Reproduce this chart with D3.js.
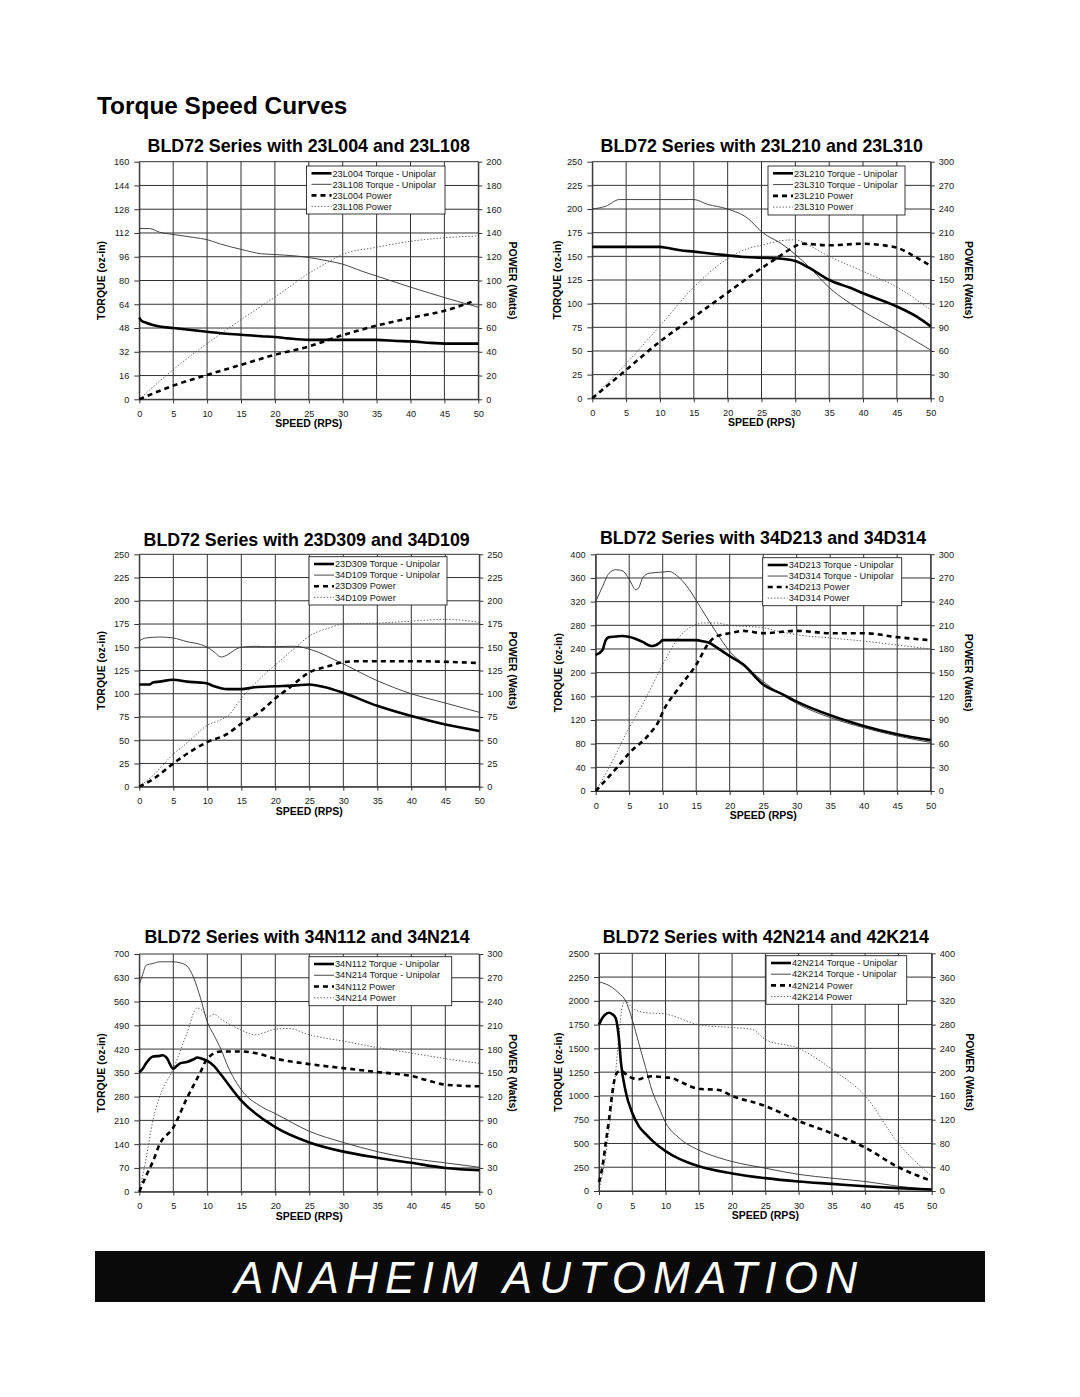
<!DOCTYPE html>
<html><head><meta charset="utf-8">
<script src="https://cdn.jsdelivr.net/npm/d3@7"></script>
<style>html,body{margin:0;padding:0;background:#fff;}svg{display:block;}</style>
</head><body>
<script>
// ---------------- DATA ----------------
const pageTitle = "Torque Speed Curves";
const brandText = "ANAHEIM AUTOMATION";
const speedTicks = [0,5,10,15,20,25,30,35,40,45,50];
const torqueAxisLabel = "TORQUE (oz-in)";
const powerAxisLabel = "POWER (Watts)";
const speedAxisLabel = "SPEED (RPS)";

// Chart 1
const c1Title = "BLD72 Series with 23L004 and 23L108";
const c1Legend = ["23L004 Torque - Unipolar","23L108 Torque - Unipolar","23L004 Power","23L108 Power"];
const c1LeftTicks = [0,16,32,48,64,80,96,112,128,144,160];
const c1RightTicks = [0,20,40,60,80,100,120,140,160,180,200];
const c1TorqueA = [[0,55],[0.3,53],[1,51.5],[2,50],[3,49],[5,48],[7,47],[10,45.5],[12,44.5],[15,43.5],[18,42.5],[20,42],[22,41],[25,40],[30,40],[35,40],[38,39.3],[40,39],[43,38],[45,37.5],[50,37.5]];
const c1TorqueB = [[0,115],[1.5,115],[3,112.5],[5,111],[8,109],[10,107.5],[12,104.5],[15,101],[18,98],[20,97.5],[25,95.5],[28,93],[30,91],[33,86],[35,83],[40,75.5],[45,68.5],[50,62]];
const c1PowerA = [[0,0],[5,11.5],[10,20.5],[15,29],[20,37.5],[25,44.5],[30,54],[35,62],[40,68.5],[45,74.5],[49,82]];
const c1PowerB = [[0,0],[5,25],[10,47],[15,67],[20,86],[25,106],[28,116],[30,122],[35,128],[40,133],[45,136],[50,137.5]];

// Chart 2
const c2Title = "BLD72 Series with 23L210 and 23L310";
const c2Legend = ["23L210 Torque - Unipolar","23L310 Torque - Unipolar","23L210 Power","23L310 Power"];
const c2LeftTicks = [0,25,50,75,100,125,150,175,200,225,250];
const c2RightTicks = [0,30,60,90,120,150,180,210,240,270,300];
const c2TorqueA = [[0,160],[10,160],[11,159],[13,156.5],[15,155],[18,152.5],[20,151],[22,149.5],[25,148.5],[28,147.5],[30,145],[32,138],[35,125],[38,117],[40,111],[45,97],[48,86],[50,76]];
const c2TorqueB = [[0,200],[2,203],[4,210],[15,210],[17,205],[20,200],[23,190],[25,176],[28,163],[30,152],[32,139],[35,117],[40,92],[45,72],[50,51]];
const c2PowerA = [[0,0],[5,36],[10,72],[15,103],[20,134],[25,165],[28,182],[30,193],[31,196],[35,194],[40,196],[43,194],[45,191],[48,178],[50,168]];
const c2PowerB = [[0,0],[5,44],[10,92],[15,141],[20,177],[23,190],[25,194],[28,200],[30,201],[32,194],[35,180],[40,161],[45,141],[50,112]];

// Chart 3
const c3Title = "BLD72 Series with 23D309 and 34D109";
const c3Legend = ["23D309 Torque - Unipolar","34D109 Torque - Unipolar","23D309 Power","34D109 Power"];
const c3LeftTicks = [0,25,50,75,100,125,150,175,200,225,250];
const c3RightTicks = [0,25,50,75,100,125,150,175,200,225,250];
const c3TorqueA = [[0,110],[1.5,110],[2,112],[3,113],[5,115],[7,113],[9,112],[10,111],[11,108],[12,106],[13,105],[15,105],[17,107],[20,108],[23,109],[25,110],[27,107.5],[30,101],[35,87],[40,76],[45,67],[50,60]];
const c3TorqueB = [[0,157],[1,160],[3,161],[5,160],[7,156],[9,153],[10,150],[11,145],[12,139.5],[13,142],[14,147],[15,150],[17,151],[19,150.5],[22,151],[23,151],[25,148],[30,132],[35,114],[40,100],[45,90],[50,80]];
const c3PowerA = [[0,0],[2,8],[5,25],[8,40],[10,48],[13,57],[15,68],[18,82],[20,95],[22,106],[25,123],[28,130],[30,134],[32,135],[40,135],[50,133]];
const c3PowerB = [[0,0],[2,12],[5,35],[7,47],[10,66],[12,72],[13,76],[15,95],[18,118],[20,131],[23,150],[25,162],[28,171],[30,175],[35,176],[40,178],[45,180],[50,177]];

// Chart 4
const c4Title = "BLD72 Series with 34D213 and 34D314";
const c4Legend = ["34D213 Torque - Unipolar","34D314 Torque - Unipolar","34D213 Power","34D314 Power"];
const c4LeftTicks = [0,40,80,120,160,200,240,280,320,360,400];
const c4RightTicks = [0,30,60,90,120,150,180,210,240,270,300];
const c4TorqueA = [[0,230],[1,238],[1.5,255],[2,260],[3,261],[4,262],[6,257],[7,252],[8,246],[8.5,245],[9.5,250],[10,255],[12,255],[15,255],[16,253],[17,250],[18,243],[20,228],[22,214],[25,180],[28,163],[30,151],[35,128],[40,110],[45,96],[50,86]];
const c4TorqueB = [[0,320],[1,345],[2,368],[3,374],[4,372],[5,358],[6,340],[6.5,345],[7,360],[8,368],[10,370],[11,371],[12,365],[14,340],[15,322],[18,268],[20,236],[22,215],[25,185],[30,148],[35,124],[40,107],[45,93],[50,82]];
const c4PowerA = [[0,0],[3,28],[5,48],[8,72],[9.5,90],[10,100],[12,126],[15,160],[17,189],[18,196],[20,200],[22,203],[25,200],[30,203],[35,200],[40,200],[45,195],[50,191]];
const c4PowerB = [[0,0],[2,30],[5,80],[7,110],[10,160],[12,190],[14,207],[15,211],[16,213],[18,213],[20,210],[25,207],[27,203],[30,198],[35,194],[40,190],[45,185],[50,180]];

// Chart 5
const c5Title = "BLD72 Series with 34N112 and 34N214";
const c5Legend = ["34N112 Torque - Unipolar","34N214 Torque - Unipolar","34N112 Power","34N214 Power"];
const c5LeftTicks = [0,70,140,210,280,350,420,490,560,630,700];
const c5RightTicks = [0,30,60,90,120,150,180,210,240,270,300];
const c5TorqueA = [[0,352],[0.5,362],[1,378],[2,398],[3,400],[3.5,402],[4,395],[5,362],[5.5,370],[6,378],[7,382],[8,390],[8.5,395],[9,393],[10,385],[11,370],[12,345],[15,268],[20,190],[25,145],[30,118],[35,100],[40,85],[45,70],[50,63]];
const c5TorqueB = [[0,610],[0.5,640],[1,667],[2,672],[3,677],[5,677],[6,674],[7,665],[8,630],[9,570],[10,500],[11,460],[12,420],[13,370],[15,300],[18,250],[20,230],[25,178],[30,145],[35,118],[40,98],[45,85],[50,72]];
const c5PowerA = [[0,0],[1,20],[2,38],[3,60],[5,81],[7,118],[9,151],[10,168],[12,177],[15,177],[17,175],[20,168],[25,161],[30,156],[35,151],[40,146],[43,139],[45,135],[50,133]];
const c5PowerB = [[0,0],[1,42],[2,90],[3,120],[5,155],[7,200],[8.5,232],[9.5,226],[10,220],[11,224],[12,218],[15,204],[17,198],[20,205],[22,206],[25,198],[30,190],[35,182],[40,175],[45,168],[50,162]];

// Chart 6
const c6Title = "BLD72 Series with 42N214 and 42K214";
const c6Legend = ["42N214 Torque - Unipolar","42K214 Torque - Unipolar","42N214 Power","42K214 Power"];
const c6LeftTicks = [0,250,500,750,1000,1250,1500,1750,2000,2250,2500];
const c6RightTicks = [0,40,80,120,160,200,240,280,320,360,400];
const c6TorqueA = [[0,1750],[0.5,1820],[1,1860],[1.5,1875],[2,1860],[2.5,1820],[3,1600],[3.3,1350],[4,1050],[5,820],[6,680],[7,600],[8,530],[10,420],[12,340],[15,260],[20,185],[25,135],[30,100],[35,75],[40,50],[45,30],[50,15]];
const c6TorqueB = [[0,2200],[2,2140],[3,2080],[4,2000],[5,1800],[6,1550],[7,1300],[8,1050],[9,880],[10,720],[12,560],[15,430],[18,350],[20,310],[25,240],[30,175],[35,135],[40,100],[45,50],[50,15]];
const c6PowerA = [[0,15],[0.5,40],[1,80],[1.5,120],[2,165],[2.5,195],[3,201],[3.5,201],[4,197],[5,190],[6,188],[7,192],[8,193],[10,191],[11,190],[12,185],[15,172],[18,170],[20,160],[25,143],[30,118],[35,97],[40,73],[45,40],[50,17]];
const c6PowerB = [[0,0],[1,60],[2,150],[2.5,200],[3,262],[3.5,310],[4,320],[5,308],[7,300],[10,298],[11,295],[15,280],[20,275],[23,272],[25,255],[30,240],[35,205],[40,160],[45,80],[50,25]];

// ---------------- LAYOUT ----------------
const FONT = "'Liberation Sans', Arial, Helvetica, sans-serif";
const svg = d3.select("body").append("svg").attr("width",1080).attr("height",1397)
  .style("font-family", FONT);

svg.append("text").attr("x",97).attr("y",114).attr("font-size",24.4).attr("font-weight","bold")
  .attr("fill","#000").text(pageTitle);

const charts = [
  {title:c1Title, legend:c1Legend, lt:c1LeftTicks, rt:c1RightTicks, series:[c1TorqueA,c1TorqueB,c1PowerA,c1PowerB],
   box:[139.3,478.3,161.7,399.3], tx:308.7, ty:152, leg:[306.5,445,166,214], lx:100.8, rx:513},
  {title:c2Title, legend:c2Legend, lt:c2LeftTicks, rt:c2RightTicks, series:[c2TorqueA,c2TorqueB,c2PowerA,c2PowerB],
   box:[592.3,930.7,161.7,398.3], tx:761.7, ty:151.5, leg:[768,905,166,215], lx:556.7, rx:968.5},
  {title:c3Title, legend:c3Legend, lt:c3LeftTicks, rt:c3RightTicks, series:[c3TorqueA,c3TorqueB,c3PowerA,c3PowerB],
   box:[139.3,479.3,554.3,786.7], tx:306.7, ty:545.7, leg:[309,447,556.7,605], lx:100.8, rx:513},
  {title:c4Title, legend:c4Legend, lt:c4LeftTicks, rt:c4RightTicks, series:[c4TorqueA,c4TorqueB,c4PowerA,c4PowerB],
   box:[595.7,930.7,554.3,791], tx:763, ty:544, leg:[762.7,901.7,557.7,605.7], lx:558.3, rx:968.5},
  {title:c5Title, legend:c5Legend, lt:c5LeftTicks, rt:c5RightTicks, series:[c5TorqueA,c5TorqueB,c5PowerA,c5PowerB],
   box:[139.3,479.3,954,1191.7], tx:307, ty:943, leg:[309,451.7,956.7,1005.7], lx:100.8, rx:513},
  {title:c6Title, legend:c6Legend, lt:c6LeftTicks, rt:c6RightTicks, series:[c6TorqueA,c6TorqueB,c6PowerA,c6PowerB],
   box:[599,931.7,953.3,1191], tx:765.8, ty:943, leg:[766,906.7,955.7,1004.3], lx:558.3, rx:969.5}
];

const styles = [
  {w:2.6, c:"#000", dash:null},
  {w:0.9, c:"#333", dash:null},
  {w:2.6, c:"#000", dash:"5,4"},
  {w:0.9, c:"#555", dash:"1.4,1.8"}
];

charts.forEach(cfg => {
  const [x0,x1,y0,y1] = cfg.box;
  const g = svg.append("g");
  const x = d3.scaleLinear().domain([0,50]).range([x0,x1]);
  const yL = d3.scaleLinear().domain([cfg.lt[0], cfg.lt[cfg.lt.length-1]]).range([y1,y0]);
  const yR = d3.scaleLinear().domain([cfg.rt[0], cfg.rt[cfg.rt.length-1]]).range([y1,y0]);

  // title
  g.append("text").attr("x",cfg.tx).attr("y",cfg.ty).attr("text-anchor","middle")
    .attr("font-size",17.8).attr("font-weight","bold").attr("fill","#000").text(cfg.title);

  // grid
  g.append("g").selectAll("line").data(cfg.lt).join("line")
    .attr("x1",x0).attr("x2",x1).attr("y1",d=>yL(d)).attr("y2",d=>yL(d))
    .attr("stroke","#333").attr("stroke-width",1);
  g.append("g").selectAll("line").data(speedTicks).join("line")
    .attr("y1",y0).attr("y2",y1).attr("x1",d=>x(d)).attr("x2",d=>x(d))
    .attr("stroke","#333").attr("stroke-width",1);

  // axes
  const axL = g.append("g").attr("transform",`translate(${x0},0)`)
    .call(d3.axisLeft(yL).tickValues(cfg.lt).tickSize(5).tickPadding(5).tickSizeOuter(0).tickFormat(d3.format("d")));
  const axR = g.append("g").attr("transform",`translate(${x1},0)`)
    .call(d3.axisRight(yR).tickValues(cfg.rt).tickSize(4).tickPadding(4).tickSizeOuter(0).tickFormat(d3.format("d")));
  const axB = g.append("g").attr("transform",`translate(0,${y1})`)
    .call(d3.axisBottom(x).tickValues(speedTicks).tickSize(4).tickPadding(7).tickSizeOuter(0).tickFormat(d3.format("d")));
  [axL,axR,axB].forEach(a => {
    a.selectAll("text").attr("font-size",9.2).attr("fill","#1a1a1a").style("font-family",FONT);
    a.selectAll("line").attr("stroke","#333");
    a.select(".domain").attr("stroke","#333");
  });

  // axis titles
  const cy = (y0+y1)/2;
  g.append("text").attr("transform",`translate(${cfg.lx+3.8},${cy}) rotate(-90)`)
    .attr("text-anchor","middle").attr("font-size",10.5).attr("font-weight","bold").text(torqueAxisLabel);
  g.append("text").attr("transform",`translate(${cfg.rx-3.8},${cy}) rotate(90)`)
    .attr("text-anchor","middle").attr("font-size",10.5).attr("font-weight","bold").text(powerAxisLabel);
  g.append("text").attr("x",(x0+x1)/2).attr("y",y1+28).attr("text-anchor","middle")
    .attr("font-size",10.5).attr("font-weight","bold").text(speedAxisLabel);

  // series
  const lineL = d3.line().x(d=>x(d[0])).y(d=>yL(d[1])).curve(d3.curveMonotoneX);
  const lineR = d3.line().x(d=>x(d[0])).y(d=>yR(d[1])).curve(d3.curveMonotoneX);
  const order = [3,1,2,0];
  order.forEach(i => {
    const s = styles[i];
    g.append("path").datum(cfg.series[i])
      .attr("d", i<2 ? lineL : lineR)
      .attr("fill","none").attr("stroke",s.c).attr("stroke-width",s.w)
      .attr("stroke-dasharray",s.dash).attr("stroke-linejoin","round");
  });

  // legend
  const [lx0,lx1,ly0,ly1] = cfg.leg;
  const lg = g.append("g");
  lg.append("rect").attr("x",lx0).attr("y",ly0).attr("width",lx1-lx0).attr("height",ly1-ly0)
    .attr("fill","#fff").attr("stroke","#222").attr("stroke-width",0.9);
  const rowH = (ly1-ly0)/4.35;
  cfg.legend.forEach((name,i) => {
    const ry = ly0 + 7.3 + i*rowH;
    const s = styles[i];
    lg.append("line").attr("x1",lx0+5).attr("x2",lx0+25).attr("y1",ry).attr("y2",ry)
      .attr("stroke",s.c).attr("stroke-width",s.w).attr("stroke-dasharray",s.dash);
    lg.append("text").attr("x",lx0+26).attr("y",ry).attr("dy","0.35em")
      .attr("font-size",9.2).attr("fill","#1a1a1a").text(name);
  });
});

// banner
svg.append("rect").attr("x",95).attr("y",1251).attr("width",890).attr("height",51).attr("fill","#0a0a0a");
svg.append("text").attr("x",234).attr("y",1293).attr("font-size",44).attr("font-style","italic")
  .attr("fill","#fff").attr("textLength",623).attr("lengthAdjust","spacing").text(brandText);
</script>
</body></html>
